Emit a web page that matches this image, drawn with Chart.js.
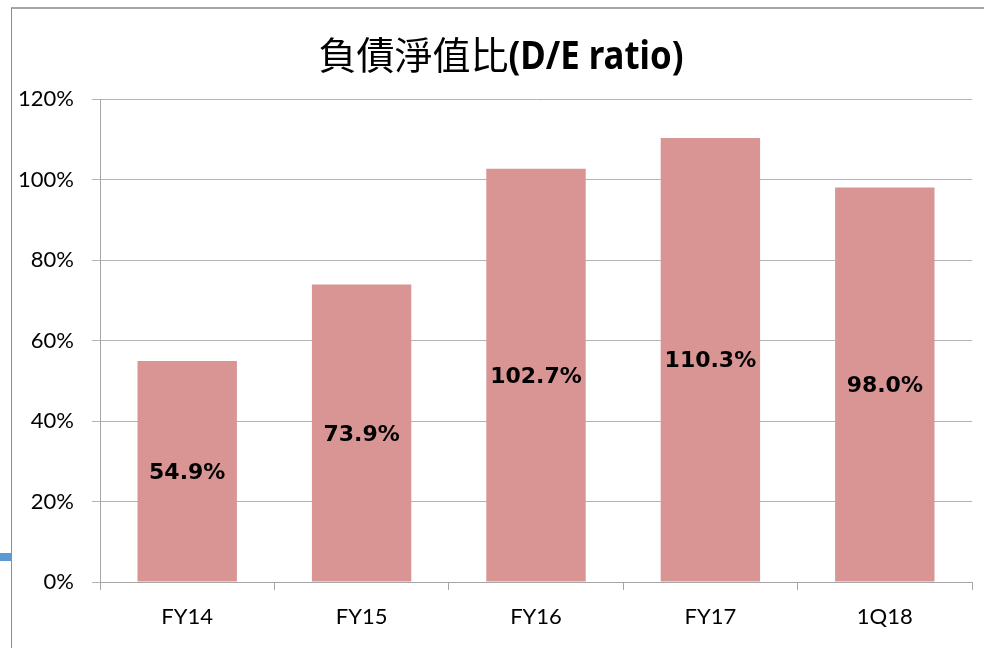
<!DOCTYPE html>
<html>
<head>
<meta charset="utf-8">
<script src="https://cdn.jsdelivr.net/npm/chart.js@4"></script>
<style>
  html, body { margin: 0; padding: 0; background: #fff; }
  #wrap { width: 984px; height: 648px; }
</style>
</head>
<body>
<div id="wrap"><canvas id="deChart" width="984" height="648"></canvas></div>
<script>
const categories = ["FY14", "FY15", "FY16", "FY17", "1Q18"];
const de_ratio = [54.9, 73.9, 102.7, 110.3, 98.0];
const title_cjk = "負債淨值比";
const title_latin = "(D/E ratio)";

// frame + blue marker at the left edge, like the slide crop
const framePlugin = {
  id: "frame",
  beforeDraw(chart) {
    const c = chart.ctx;
    c.save();
    c.fillStyle = "#fff";
    c.fillRect(0, 0, chart.width, chart.height);
    c.strokeStyle = "#a6a6a6";
    c.lineWidth = 2;
    c.beginPath();
    c.moveTo(11, 8);
    c.lineTo(chart.width, 8);
    c.stroke();
    c.strokeStyle = "#8c8c8c";
    c.lineWidth = 1;
    c.beginPath();
    c.moveTo(11.5, 8);
    c.lineTo(11.5, chart.height);
    c.stroke();
    c.fillStyle = "#5b9bd5";
    c.fillRect(0, 553, 11, 8);
    c.restore();
  },
};

// title: chinese part regular, latin part bold (narrow)
const titlePlugin = {
  id: "mixedTitle",
  afterDraw(chart) {
    const c = chart.ctx;
    c.save();
    c.fillStyle = "#000";
    c.textBaseline = "alphabetic";
    const f1 = "38px 'Noto Sans CJK TC'";
    const f2 = "bold 40px 'Noto Sans'";
    const squeeze = 0.87;
    c.font = f1;
    const w1 = c.measureText(title_cjk).width;
    c.font = f2;
    const w2 = c.measureText(title_latin).width * squeeze;
    let x = 501 - (w1 + w2) / 2;
    c.font = f1;
    c.fillText(title_cjk, x, 69);
    c.font = f2;
    c.translate(x + w1, 69);
    c.scale(squeeze, 1);
    c.fillText(title_latin, 0, 0);
    c.restore();
  },
};

const valueLabels = {
  id: "valueLabels",
  afterDatasetsDraw(chart) {
    const c = chart.ctx;
    const meta = chart.getDatasetMeta(0);
    c.save();
    c.font = "bold 22px 'DejaVu Sans'";
    c.fillStyle = "#000";
    c.textAlign = "center";
    c.textBaseline = "middle";
    meta.data.forEach((bar, i) => {
      const p = bar.getCenterPoint();
      c.fillText(de_ratio[i].toFixed(1) + "%", p.x, p.y + 2);
    });
    c.restore();
  },
};

new Chart(document.getElementById("deChart"), {
  type: "bar",
  data: {
    labels: categories,
    datasets: [
      {
        label: "D/E ratio",
        data: de_ratio,
        backgroundColor: "rgb(217, 149, 148)",
        borderWidth: 0,
        categoryPercentage: 1,
        barPercentage: 0.57,
      },
    ],
  },
  options: {
    responsive: false,
    animation: false,
    layout: { padding: { left: 0, top: 99, right: 12, bottom: 0 } },
    plugins: {
      legend: { display: false },
      title: { display: false },
      tooltip: { enabled: false },
    },
    scales: {
      x: {
        grid: {
          offset: true,
          drawOnChartArea: false,
          tickLength: 8,
          color: "#a6a6a6",
        },
        border: { color: "#a6a6a6" },
        ticks: {
          padding: 14,
          color: "#000",
          font: { family: "Lato", size: 22 },
        },
        afterFit(scale) {
          scale.height = 66;
        },
      },
      y: {
        min: 0,
        max: 120,
        ticks: {
          stepSize: 20,
          padding: 18,
          color: "#000",
          font: { family: "Lato", size: 22 },
          callback: (v) => v + "%",
        },
        grid: { color: "#b3b3b3", tickLength: 8 },
        border: { color: "#a6a6a6" },
        afterFit(scale) {
          scale.width = 100;
        },
      },
    },
  },
  plugins: [framePlugin, valueLabels, titlePlugin],
});
</script>
</body>
</html>
